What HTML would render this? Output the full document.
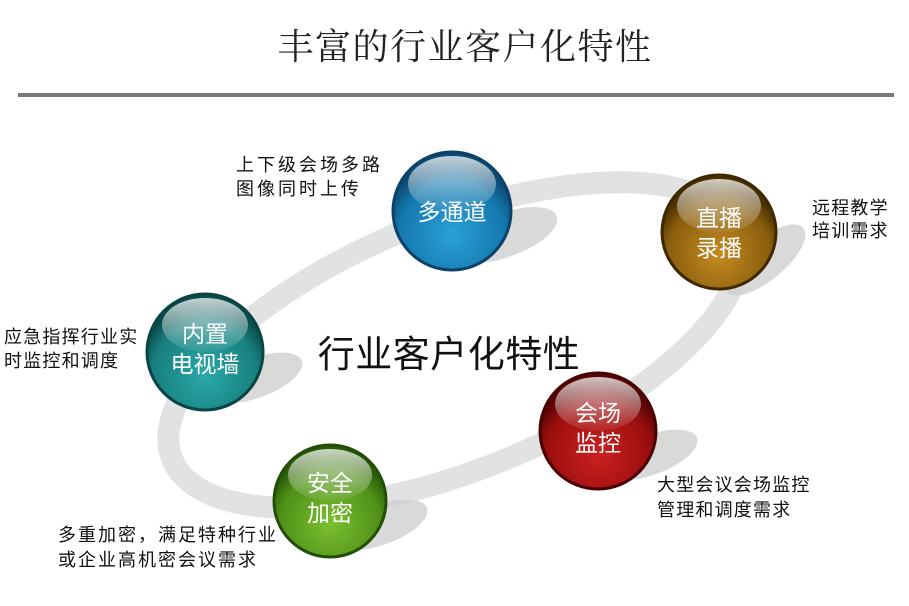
<!DOCTYPE html>
<html><head><meta charset="utf-8"><style>
html,body{margin:0;padding:0;background:#fff;width:909px;height:606px;overflow:hidden}
svg text{font-family:"Liberation Sans","Noto Sans CJK SC",sans-serif}
</style></head><body>
<svg width="909" height="606" viewBox="0 0 909 606" xmlns="http://www.w3.org/2000/svg">
<defs>
<radialGradient id="gb" cx="50%" cy="70%" r="60%"><stop offset="0" stop-color="#2aa0d8"/><stop offset="0.75" stop-color="#1478ad"/><stop offset="1" stop-color="#0c4a72"/></radialGradient>
<radialGradient id="gbr" cx="50%" cy="70%" r="60%"><stop offset="0" stop-color="#c58a20"/><stop offset="0.75" stop-color="#8a5e0e"/><stop offset="1" stop-color="#4a3000"/></radialGradient>
<radialGradient id="gt" cx="50%" cy="70%" r="60%"><stop offset="0" stop-color="#2aa8a8"/><stop offset="0.75" stop-color="#17807f"/><stop offset="1" stop-color="#0b4c4c"/></radialGradient>
<radialGradient id="gr" cx="50%" cy="70%" r="60%"><stop offset="0" stop-color="#cc2020"/><stop offset="0.75" stop-color="#9a0e0e"/><stop offset="1" stop-color="#560404"/></radialGradient>
<radialGradient id="gg" cx="50%" cy="70%" r="60%"><stop offset="0" stop-color="#7cc030"/><stop offset="0.75" stop-color="#4f9018"/><stop offset="1" stop-color="#2a5a08"/></radialGradient>
<linearGradient id="hl" x1="0" y1="0" x2="0" y2="1"><stop offset="0" stop-color="#fff" stop-opacity="0.75"/><stop offset="1" stop-color="#fff" stop-opacity="0.05"/></linearGradient>
</defs>
<text x="465" y="59" text-anchor="middle" font-size="36" letter-spacing="1.5" fill="#222" style="font-family:'Liberation Serif','Noto Serif CJK SC',serif">丰富的行业客户化特性</text>
<rect x="18" y="93" width="876" height="4" fill="#7a7a7a"/>
<ellipse cx="455" cy="345" rx="305" ry="125" transform="rotate(-22 455 345)" fill="none" stroke="#e2e2e2" stroke-width="22"/>
<g fill="#d0d0d0" opacity="0.8">
<ellipse cx="505" cy="235" rx="55" ry="22" transform="rotate(-20 505 235)"/>
<ellipse cx="765" cy="260" rx="50" ry="20" transform="rotate(-40 765 260)"/>
<ellipse cx="255" cy="378" rx="50" ry="20" transform="rotate(-20 255 378)"/>
<ellipse cx="650" cy="455" rx="50" ry="20" transform="rotate(-20 650 455)"/>
<ellipse cx="380" cy="525" rx="50" ry="20" transform="rotate(-20 380 525)"/>
</g>
<g>
<circle cx="452" cy="211" r="59" fill="url(#gb)" stroke="#0d4268" stroke-width="3"/>
<ellipse cx="452" cy="184" rx="44" ry="28" fill="url(#hl)"/>
<text x="452" y="220" text-anchor="middle" font-size="23" fill="#fff">多通道</text>
<circle cx="719" cy="232" r="57" fill="url(#gbr)" stroke="#3e2800" stroke-width="3"/>
<ellipse cx="719" cy="206" rx="42" ry="27" fill="url(#hl)"/>
<text x="719" y="226" text-anchor="middle" font-size="23" fill="#fff">直播</text>
<text x="719" y="256" text-anchor="middle" font-size="23" fill="#fff">录播</text>
<circle cx="205" cy="352" r="58" fill="url(#gt)" stroke="#0a4444" stroke-width="3"/>
<ellipse cx="205" cy="325" rx="43" ry="27" fill="url(#hl)"/>
<text x="205" y="342" text-anchor="middle" font-size="23" fill="#fff">内置</text>
<text x="205" y="372" text-anchor="middle" font-size="23" fill="#fff">电视墙</text>
<circle cx="598" cy="431" r="58" fill="url(#gr)" stroke="#4a0202" stroke-width="3"/>
<ellipse cx="598" cy="404" rx="43" ry="27" fill="url(#hl)"/>
<text x="598" y="421" text-anchor="middle" font-size="23" fill="#fff">会场</text>
<text x="598" y="451" text-anchor="middle" font-size="23" fill="#fff">监控</text>
<circle cx="330" cy="501" r="56" fill="url(#gg)" stroke="#244e06" stroke-width="3"/>
<ellipse cx="330" cy="475" rx="42" ry="26" fill="url(#hl)"/>
<text x="330" y="491" text-anchor="middle" font-size="23" fill="#fff">安全</text>
<text x="330" y="521" text-anchor="middle" font-size="23" fill="#fff">加密</text>
</g>
<text x="449" y="367" text-anchor="middle" font-size="37" letter-spacing="0.5" fill="#111">行业客户化特性</text>
<g font-size="18" fill="#111" letter-spacing="1.2">
<text x="236" y="171" letter-spacing="3">上下级会场多路</text>
<text x="236" y="195" letter-spacing="3">图像同时上传</text>
<text x="812" y="214">远程教学</text>
<text x="812" y="237">培训需求</text>
<text x="4" y="343">应急指挥行业实</text>
<text x="4" y="367">时监控和调度</text>
<text x="657" y="491">大型会议会场监控</text>
<text x="657" y="516">管理和调度需求</text>
<text x="58" y="541" letter-spacing="2">多重加密，满足特种行业</text>
<text x="58" y="566" letter-spacing="2">或企业高机密会议需求</text>
</g>
</svg>
</body></html>
